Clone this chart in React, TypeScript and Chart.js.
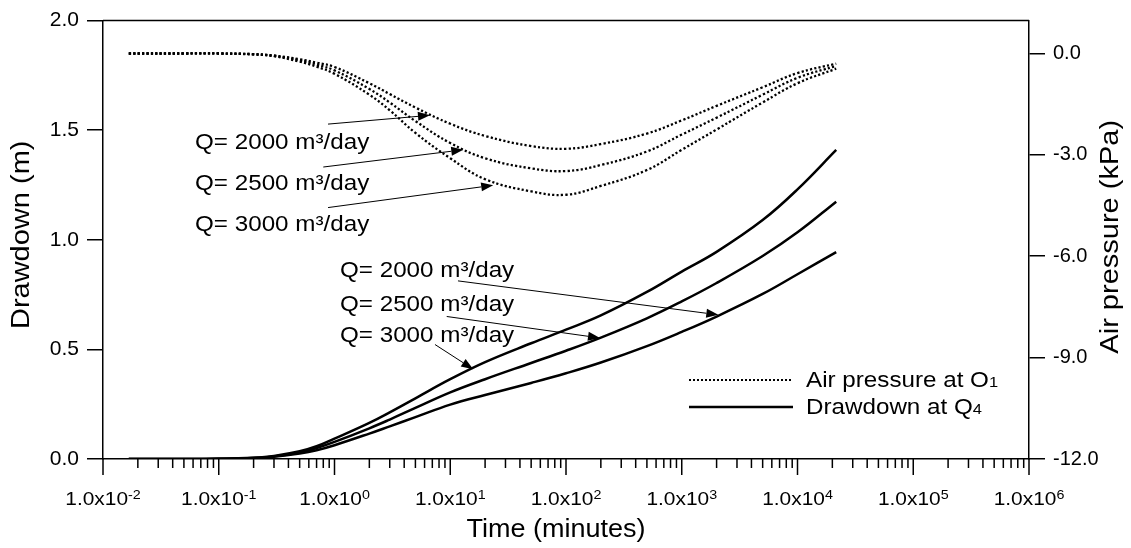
import React, { useEffect, useRef } from "react";
import { Chart, registerables } from "chart.js";

Chart.register(...registerables);

const FONT = '"Liberation Sans", Arial, Helvetica, sans-serif';

// ---- data (time in minutes) ----
const TIMES = [0.0167, 0.05, 0.1, 0.2, 0.3, 0.5, 0.7, 1, 2, 3, 5, 10, 20, 50, 100, 200, 500, 1000, 2000, 5000, 10000, 21600];

// Drawdown at Q4 (m)
const DD_2000 = [0, 0, 0.001, 0.004, 0.010, 0.025, 0.040, 0.063, 0.116, 0.149, 0.191, 0.248, 0.292, 0.347, 0.391, 0.440, 0.515, 0.580, 0.650, 0.753, 0.843, 0.944];
const DD_2500 = [0, 0, 0.001, 0.005, 0.012, 0.030, 0.050, 0.078, 0.140, 0.180, 0.233, 0.304, 0.364, 0.438, 0.494, 0.554, 0.642, 0.719, 0.803, 0.926, 1.034, 1.174];
const DD_3000 = [0, 0, 0.001, 0.006, 0.014, 0.035, 0.058, 0.093, 0.165, 0.213, 0.277, 0.364, 0.442, 0.528, 0.590, 0.655, 0.762, 0.855, 0.945, 1.090, 1.230, 1.410];

// Air pressure at O1 (kPa)
const AIR_2000 = [0, 0, 0, -0.02, -0.06, -0.17, -0.27, -0.40, -0.88, -1.20, -1.60, -2.08, -2.44, -2.74, -2.82, -2.68, -2.37, -1.98, -1.55, -1.00, -0.58, -0.30];
const AIR_2500 = [0, 0, 0, -0.02, -0.07, -0.20, -0.33, -0.50, -1.05, -1.45, -2.00, -2.65, -3.10, -3.40, -3.48, -3.30, -2.90, -2.40, -1.90, -1.22, -0.72, -0.37];
const AIR_3000 = [0, 0, 0, -0.03, -0.08, -0.24, -0.39, -0.60, -1.22, -1.68, -2.35, -3.10, -3.72, -4.08, -4.18, -3.92, -3.45, -2.85, -2.25, -1.45, -0.88, -0.45];

// ---- axes ----
const X_MIN = 0.01;
const X_MAX = 1e6;
const X_DECADES = [-2, -1, 0, 1, 2, 3, 4, 5, 6];
const DRAWDOWN_TICKS = [0, 0.5, 1.0, 1.5, 2.0];
const PRESSURE_TICKS = [0, -3, -6, -9, -12];
const DRAWDOWN_MAX = 2.0;
const PRESSURE_MIN = -12;
const PRESSURE_ZERO_AT_DRAWDOWN = 1.85;
const PRESSURE_MAX = PRESSURE_MIN + (-PRESSURE_MIN / PRESSURE_ZERO_AT_DRAWDOWN) * DRAWDOWN_MAX;

// ---- texts ----
const Q_LABELS = ["Q= 2000 m³/day", "Q= 2500 m³/day", "Q= 3000 m³/day"];
const X_TITLE = "Time (minutes)";
const Y_TITLE = "Drawdown (m)";
const Y2_TITLE = "Air pressure (kPa)";
const LEGEND_AIR = ["Air pressure at O", "1"];
const LEGEND_DD = ["Drawdown at Q", "4"];

// ---- annotations (data coordinates) ----
// air-pressure group: [time, kPa]
const AIR_TEXT_T = 0.0624;
const AIR_TEXT_KPA = [-2.83, -4.04, -5.24];
const AIR_ARROW_FROM = [[0.879, -2.09], [0.80, -3.36], [0.88, -4.56]];
const AIR_ARROW_TO = [[6.68, -1.83], [12.96, -2.85], [23.5, -3.90]];
// drawdown group: [time, m]
const DD_TEXT_T = 1.116;
const DD_TEXT_M = [0.831, 0.673, 0.533];
const DD_ARROW_FROM = [[11.66, 0.8126], [9.32, 0.6501], [7.38, 0.5223]];
const DD_ARROW_TO = [[2069, 0.6578], [196.7, 0.5522], [15.8, 0.4095]];

type Part = { text: string; size: number; dy?: number };

function drawParts(
  ctx: CanvasRenderingContext2D,
  parts: Part[],
  x: number,
  y: number,
  align: "left" | "center" | "right",
  sx: number,
  rotate = false
) {
  ctx.save();
  ctx.translate(x, y);
  if (rotate) ctx.rotate(-Math.PI / 2);
  ctx.scale(sx, 1);
  ctx.textAlign = "left";
  ctx.textBaseline = "alphabetic";
  ctx.fillStyle = "#000";
  let total = 0;
  const widths = parts.map((p) => {
    ctx.font = `${p.size}px ${FONT}`;
    const w = ctx.measureText(p.text).width;
    total += w;
    return w;
  });
  let cx = align === "center" ? -total / 2 : align === "right" ? -total : 0;
  parts.forEach((p, i) => {
    ctx.font = `${p.size}px ${FONT}`;
    ctx.fillText(p.text, cx, p.dy || 0);
    cx += widths[i];
  });
  ctx.restore();
}

function drawArrow(ctx: CanvasRenderingContext2D, x1: number, y1: number, x2: number, y2: number) {
  const ang = Math.atan2(y2 - y1, x2 - x1);
  const len = 12;
  const half = 4.5;
  const bx = x2 - len * Math.cos(ang);
  const by = y2 - len * Math.sin(ang);
  ctx.save();
  ctx.strokeStyle = "#000";
  ctx.fillStyle = "#000";
  ctx.lineWidth = 1;
  ctx.beginPath();
  ctx.moveTo(x1, y1);
  ctx.lineTo(bx, by);
  ctx.stroke();
  ctx.beginPath();
  ctx.moveTo(x2, y2);
  ctx.lineTo(bx + half * Math.sin(ang), by - half * Math.cos(ang));
  ctx.lineTo(bx - half * Math.sin(ang), by + half * Math.cos(ang));
  ctx.closePath();
  ctx.fill();
  ctx.restore();
}

const decorPlugin = {
  id: "decor",
  afterDraw(chart: any) {
    const { ctx, chartArea: a, scales } = chart;
    const xs = scales.x;
    const yl = scales.y;
    const yr = scales.y2;
    ctx.save();
    ctx.strokeStyle = "#000";
    ctx.lineWidth = 1.5;
    // top frame
    ctx.beginPath();
    ctx.moveTo(a.left, a.top);
    ctx.lineTo(a.right, a.top);
    ctx.stroke();

    // x ticks (major + minor) and labels
    X_DECADES.forEach((e, i) => {
      const v = Math.pow(10, e);
      const px = xs.getPixelForValue(v);
      ctx.beginPath();
      ctx.moveTo(px, a.bottom);
      ctx.lineTo(px, a.bottom + 16);
      ctx.stroke();
      if (i < X_DECADES.length - 1) {
        for (let m = 2; m <= 9; m++) {
          const p = xs.getPixelForValue(m * v);
          ctx.beginPath();
          ctx.moveTo(p, a.bottom);
          ctx.lineTo(p, a.bottom + 9);
          ctx.stroke();
        }
      }
      drawParts(
        ctx,
        [
          { text: "1.0x10", size: 19 },
          { text: String(e), size: 13, dy: -6 },
        ],
        px,
        a.bottom + 46,
        "center",
        1.1
      );
    });

    // axis titles
    drawParts(ctx, [{ text: X_TITLE, size: 25 }], (a.left + a.right) / 2 - 10, a.bottom + 78, "center", 1.08);
    drawParts(ctx, [{ text: Y_TITLE, size: 25 }], 29, (a.top + a.bottom) / 2 - 5, "center", 1.16, true);
    drawParts(ctx, [{ text: Y2_TITLE, size: 25 }], 1118, (a.top + a.bottom) / 2 - 3, "center", 1.16, true);

    // air pressure annotations
    Q_LABELS.forEach((lab, i) => {
      drawParts(ctx, [{ text: lab, size: 22 }], xs.getPixelForValue(AIR_TEXT_T), yr.getPixelForValue(AIR_TEXT_KPA[i]), "left", 1.1);
      drawArrow(
        ctx,
        xs.getPixelForValue(AIR_ARROW_FROM[i][0]),
        yr.getPixelForValue(AIR_ARROW_FROM[i][1]),
        xs.getPixelForValue(AIR_ARROW_TO[i][0]),
        yr.getPixelForValue(AIR_ARROW_TO[i][1])
      );
    });
    // drawdown annotations
    Q_LABELS.forEach((lab, i) => {
      drawParts(ctx, [{ text: lab, size: 22 }], xs.getPixelForValue(DD_TEXT_T), yl.getPixelForValue(DD_TEXT_M[i]), "left", 1.1);
      drawArrow(
        ctx,
        xs.getPixelForValue(DD_ARROW_FROM[i][0]),
        yl.getPixelForValue(DD_ARROW_FROM[i][1]),
        xs.getPixelForValue(DD_ARROW_TO[i][0]),
        yl.getPixelForValue(DD_ARROW_TO[i][1])
      );
    });

    // legend
    const lx1 = a.right - 340;
    const lx2 = a.right - 236;
    const ly1 = a.bottom - 79;
    const ly2 = a.bottom - 52;
    ctx.save();
    ctx.lineWidth = 2;
    ctx.setLineDash([2, 2]);
    ctx.beginPath();
    ctx.moveTo(lx1, ly1);
    ctx.lineTo(lx2, ly1);
    ctx.stroke();
    ctx.setLineDash([]);
    ctx.lineWidth = 2.5;
    ctx.beginPath();
    ctx.moveTo(lx1, ly2);
    ctx.lineTo(lx2, ly2);
    ctx.stroke();
    ctx.restore();
    drawParts(ctx, [{ text: LEGEND_AIR[0], size: 22 }, { text: LEGEND_AIR[1], size: 15 }], a.right - 223, ly1 + 7, "left", 1.1);
    drawParts(ctx, [{ text: LEGEND_DD[0], size: 22 }, { text: LEGEND_DD[1], size: 15 }], a.right - 223, ly2 + 7, "left", 1.1);

    ctx.restore();
  },
};

function series(values: number[]) {
  return TIMES.map((t, i) => ({ x: t, y: values[i] }));
}

export default function App() {
  const canvasRef = useRef<HTMLCanvasElement | null>(null);

  useEffect(() => {
    if (!canvasRef.current) return;
    const dotted = { borderColor: "#000", borderWidth: 2.3, borderDash: [2.2, 2.2], pointRadius: 0, tension: 0.4, fill: false, yAxisID: "y2" };
    const solid = { borderColor: "#000", borderWidth: 2.5, pointRadius: 0, tension: 0.4, fill: false, yAxisID: "y" };
    const chart = new Chart(canvasRef.current, {
      type: "line",
      data: {
        datasets: [
          { label: "Air 2000", data: series(AIR_2000), ...dotted },
          { label: "Air 2500", data: series(AIR_2500), ...dotted },
          { label: "Air 3000", data: series(AIR_3000), ...dotted },
          { label: "DD 2000", data: series(DD_2000), ...solid },
          { label: "DD 2500", data: series(DD_2500), ...solid },
          { label: "DD 3000", data: series(DD_3000), ...solid },
        ],
      },
      options: {
        responsive: false,
        maintainAspectRatio: false,
        animation: false,
        layout: { padding: { top: 16, left: 0, right: 0, bottom: 0 }, autoPadding: false } as any,
        plugins: { legend: { display: false }, tooltip: { enabled: false } },
        scales: {
          x: {
            type: "logarithmic",
            min: X_MIN,
            max: X_MAX,
            position: "bottom",
            grid: { display: false },
            border: { display: true, color: "#000", width: 1.5 },
            ticks: { display: false },
            afterFit: (s: any) => {
              s.height = 548 - 459;
            },
          },
          y: {
            type: "linear",
            position: "left",
            min: 0,
            max: DRAWDOWN_MAX,
            afterBuildTicks: (s: any) => {
              s.ticks = DRAWDOWN_TICKS.map((v) => ({ value: v }));
            },
            grid: { drawOnChartArea: false, drawTicks: true, tickLength: 16, color: "#000", lineWidth: 1.5 },
            border: { display: true, color: "#000", width: 1.5 },
            ticks: {
              color: "#000",
              padding: 8,
              font: { family: FONT, size: 21 },
              callback: (v: any) => Number(v).toFixed(1),
            },
            afterFit: (s: any) => {
              s.width = 103;
            },
          },
          y2: {
            type: "linear",
            position: "right",
            min: PRESSURE_MIN,
            max: PRESSURE_MAX,
            afterBuildTicks: (s: any) => {
              s.ticks = PRESSURE_TICKS.map((v) => ({ value: v }));
            },
            grid: { drawOnChartArea: false, drawTicks: true, tickLength: 16, color: "#000", lineWidth: 1.5 },
            border: { display: true, color: "#000", width: 1.5 },
            ticks: {
              color: "#000",
              padding: 8,
              font: { family: FONT, size: 20 },
              callback: (v: any) => Number(v).toFixed(1),
            },
            afterFit: (s: any) => {
              s.width = 1131 - 1029;
            },
          },
        },
      } as any,
      plugins: [decorPlugin],
    });
    return () => chart.destroy();
  }, []);

  return (
    <div style={{ position: "fixed", left: 0, top: 0, width: 1131, height: 548, background: "#fff" }}>
      <canvas ref={canvasRef} width={1131} height={548} style={{ display: "block" }} />
    </div>
  );
}
